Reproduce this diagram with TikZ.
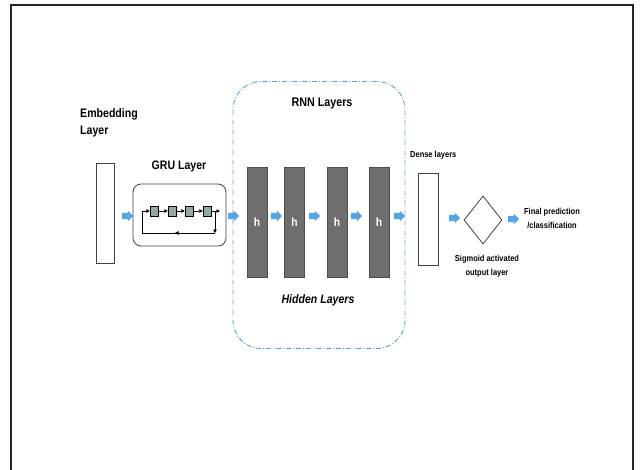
\documentclass[tikz,border=0pt]{standalone}
\usepackage{fontspec}
\setmainfont{Liberation Sans}[FakeStretch=0.86]
\usetikzlibrary{shapes.geometric,shapes.arrows,arrows.meta}
\definecolor{arrowblue}{RGB}{84,164,230}
\definecolor{dashblue}{RGB}{95,160,212}
\definecolor{hgray}{RGB}{110,110,110}
\definecolor{cellgray}{RGB}{150,168,162}
\tikzset{
  bluearrow/.style={single arrow, fill=arrowblue, draw=none, inner sep=3pt,
    minimum height=11pt, single arrow head extend=2pt, single arrow tip angle=90},
  hbox/.style={draw=black!70, fill=hgray, minimum width=20pt, minimum height=110pt, inner sep=0pt,
    text=white, font=\bfseries\fontsize{12}{12}\selectfont},
  whitebox/.style={draw=black!75, fill=white, line width=0.8pt, inner sep=0pt},
  cell/.style={draw=black, fill=cellgray, minimum width=8pt, minimum height=10pt, inner sep=0pt, line width=0.5pt},
  bigtxt/.style={font=\bfseries\fontsize{12.3}{17}\selectfont, align=left},
  smalltxt/.style={font=\bfseries\fontsize{8.7}{14}\selectfont, align=center},
  tinyarr/.style={-{Triangle[length=3.5pt,width=3.5pt]}, line width=0.5pt}
}
\begin{document}
\begin{tikzpicture}[x=1pt,y=-1pt]
\useasboundingbox (0,0) rectangle (640,469);
% outer frame
\draw[line width=1.8pt, black!85] (11,475) -- (11,5) -- (633,5) -- (633,475);

% Embedding
\node[bigtxt, anchor=north west, inner sep=0pt] (embtxt) at (80,108) {Embedding\\Layer};
\node[whitebox, minimum width=18pt, minimum height=100pt] (emb) at (105,213) {};
\node[bluearrow] (a1) at (126,216) {};

% GRU
\node[font=\bfseries\fontsize{12.3}{12}\selectfont] (grutxt) at (179,166) {GRU Layer};
\node[draw=black!75, line width=0.8pt, rounded corners=8pt, minimum width=93pt, minimum height=62pt] (gru) at (179.5,215) {};
\node[cell] (c1) at (154,211) {};
\node[cell] (c2) at (172,211) {};
\node[cell] (c3) at (189,211) {};
\node[cell] (c4) at (207,211) {};
\coordinate (gl) at (142,211);
\coordinate (gr) at (220,211);
\coordinate (gbr) at (215,233);
\coordinate (gbl) at (142,233);
\coordinate (gbm) at (175,233);
\coordinate (grt) at (215,211);
\draw[tinyarr] (gl) -- (c1);
\draw[tinyarr] (c1) -- (c2);
\draw[tinyarr] (c2) -- (c3);
\draw[tinyarr] (c3) -- (c4);
\draw[tinyarr] (c4) -- (gr);
\draw[tinyarr] (grt) -- (gbr);
\draw[line width=0.5pt] (gbr) -- (gbl) -- (gl);
\draw[tinyarr] (gbr) -- (gbm);
\node[bluearrow] (a2) at (232,216) {};

% RNN container
\node[draw=dashblue, line width=0.9pt, dash pattern=on 5pt off 2pt on 1pt off 2pt,
  rounded corners=28pt, minimum width=172pt, minimum height=267pt] (rnn) at (319,215) {};
\node[font=\bfseries\fontsize{12.5}{12}\selectfont] (rnntxt) at (322,103) {RNN Layers};
\node[hbox] (h1) at (257,222) {h};
\node[hbox] (h2) at (294.5,222) {h};
\node[hbox] (h3) at (337,222) {h};
\node[hbox] (h4) at (379,222) {h};
\node[bluearrow] (a3) at (275,216) {};
\node[bluearrow] (a4) at (313,216) {};
\node[bluearrow] (a5) at (355,216) {};
\node[bluearrow] (a6) at (398,216) {};
\node[font=\bfseries\itshape\fontsize{12.3}{12}\selectfont] (hidtxt) at (318,300) {Hidden Layers};

% Dense
\node[smalltxt, anchor=west, inner sep=0pt] (dentxt) at (410,155) {Dense layers};
\node[whitebox, minimum width=20pt, minimum height=92pt] (dense) at (428,219) {};
\node[bluearrow] (a7) at (453,218) {};

% Sigmoid diamond
\node[draw=black!75, line width=0.8pt, diamond, minimum width=38pt, minimum height=48pt, inner sep=0pt] (sig) at (483,220) {};
\node[smalltxt] (sigtxt) at (487,266) {Sigmoid activated\\output layer};
\node[bluearrow] (a8) at (512,219) {};

% Final
\node[smalltxt] (fintxt) at (552,218.5) {Final prediction\\/classification};
\end{tikzpicture}
\end{document}
